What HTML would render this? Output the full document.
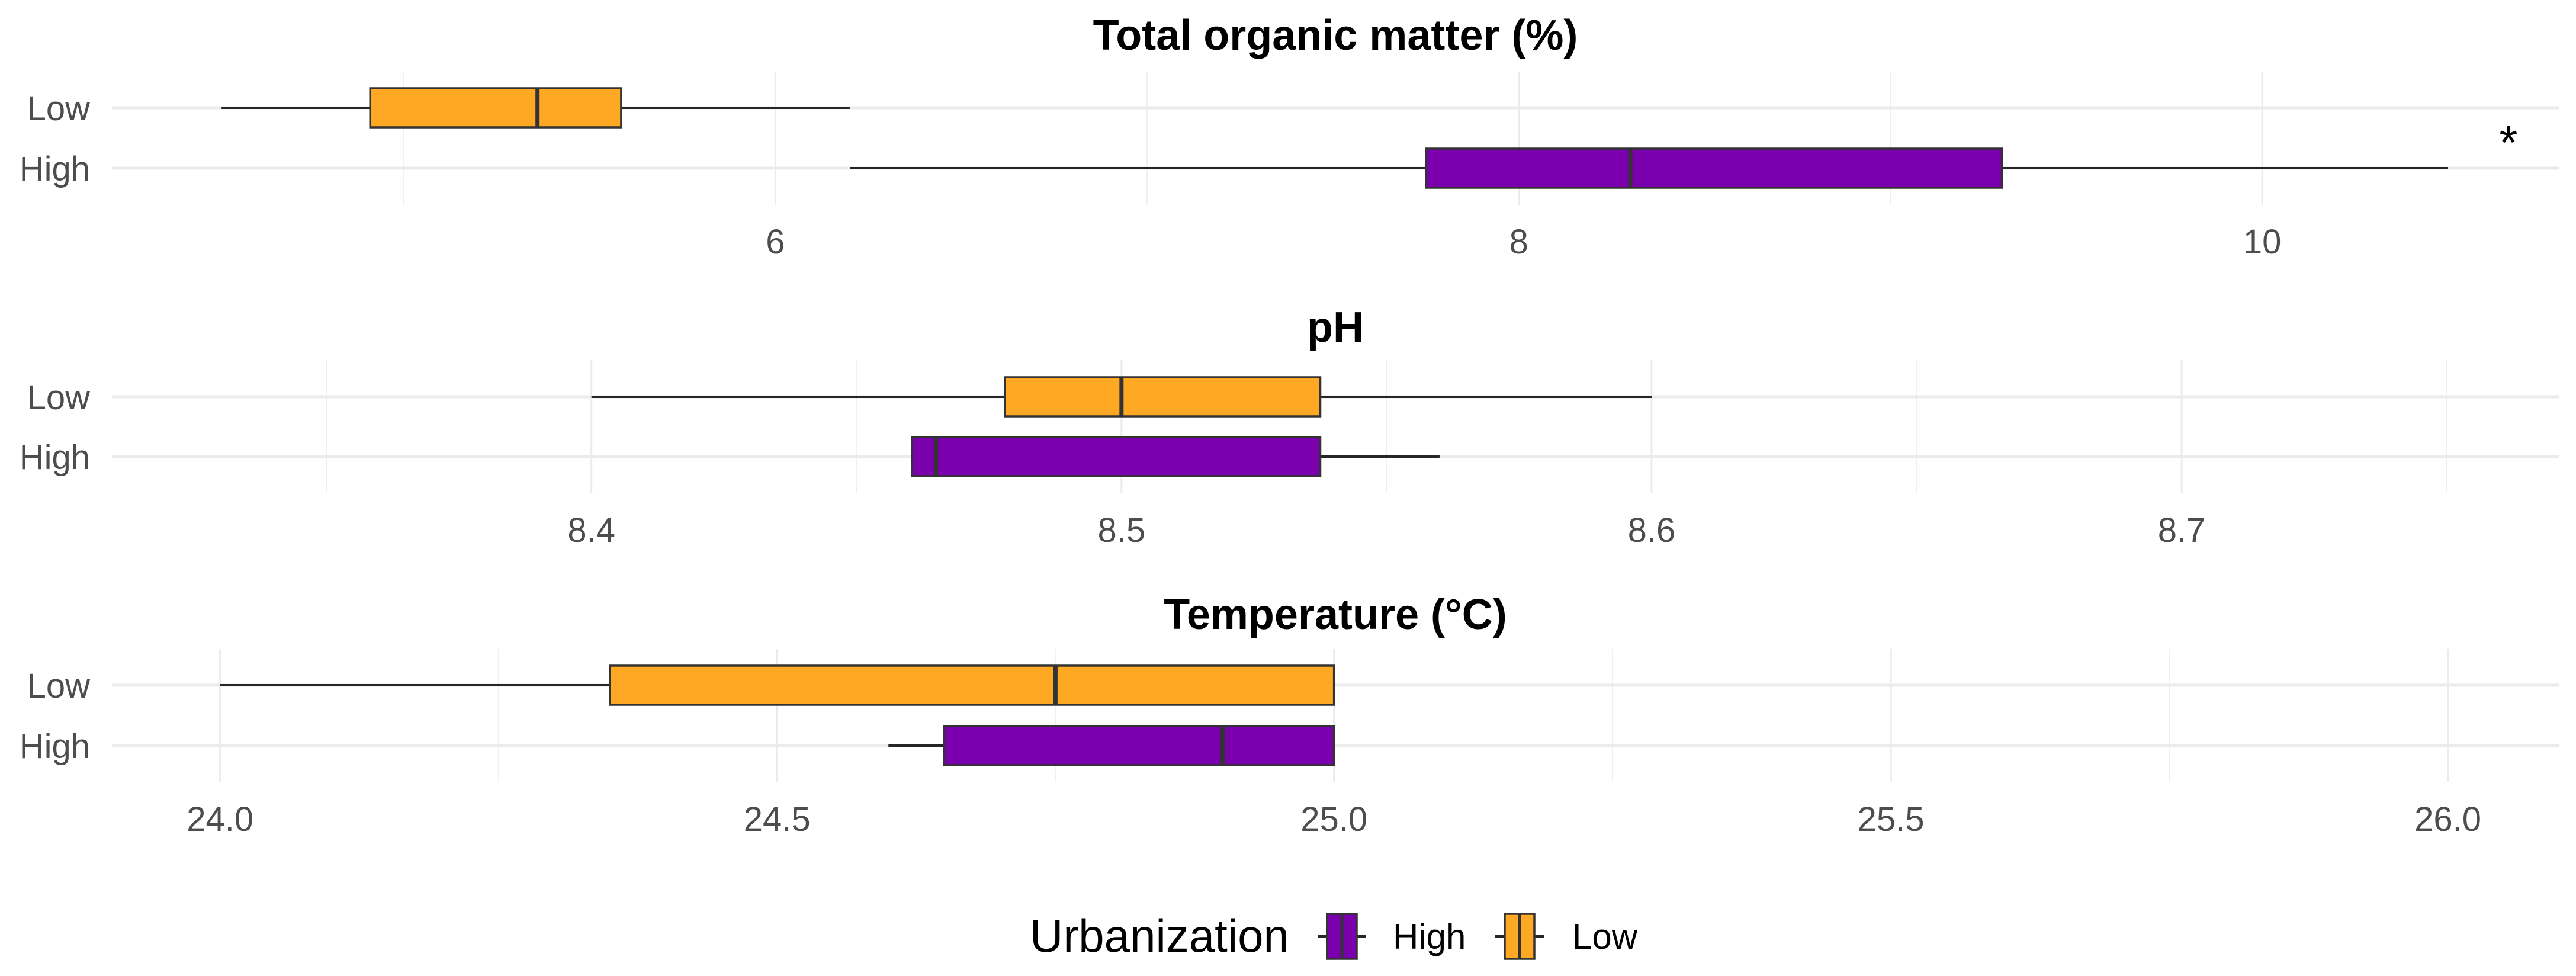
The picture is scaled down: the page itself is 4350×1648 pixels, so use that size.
<!DOCTYPE html>
<html><head><meta charset="utf-8"><style>
html,body{margin:0;padding:0;background:#fff;}
svg{display:block;font-family:"Liberation Sans",Arial,sans-serif;}
</style></head><body>
<svg id="chart" width="4350" height="1648" viewBox="0 0 4350 1648" xmlns="http://www.w3.org/2000/svg"></svg>
<script>
// ---- data ----
const groups = ["Low", "High"];
const panelTitles = ["Total organic matter (%)", "pH", "Temperature (°C)"];
// [whiskerLow, Q1, median, Q3, whiskerHigh] per group (Low, High)
const tomLow = [4.51, 4.91, 5.36, 5.585, 6.2];
const tomHigh = [6.2, 7.75, 8.30, 9.30, 10.5];
const phLow = [8.40, 8.478, 8.50, 8.5375, 8.60];
const phHigh = [8.4605, 8.4605, 8.465, 8.5375, 8.56];
const tempLow = [24.0, 24.35, 24.75, 25.0, 25.0];
const tempHigh = [24.60, 24.65, 24.90, 25.0, 25.0];
const tomTicks = [6, 8, 10];
const tomMinor = [5, 7, 9];
const phTicks = [8.4, 8.5, 8.6, 8.7];
const phMinor = [8.35, 8.45, 8.55, 8.65, 8.75];
const tempTicks = [24.0, 24.5, 25.0, 25.5, 26.0];
const tempMinor = [24.25, 24.75, 25.25, 25.75];
const tickLabelsTom = ["6", "8", "10"];
const tickLabelsPh = ["8.4", "8.5", "8.6", "8.7"];
const tickLabelsTemp = ["24.0", "24.5", "25.0", "25.5", "26.0"];

const NS = "http://www.w3.org/2000/svg";
const svg = document.getElementById("chart");
function mk(tag, attrs, parent) {
  const e = document.createElementNS(NS, tag);
  for (const k in attrs) e.setAttribute(k, attrs[k]);
  (parent || svg).appendChild(e);
  return e;
}
function linScale(v0, p0, v1, p1) { return v => p0 + (v - v0) * (p1 - p0) / (v1 - v0); }

const colors = { Low: "#FFA824", High: "#7A00AD" };
const plotL = 189, plotR = 4322;

const panels = [
  { key: "tom", title: panelTitles[0], low: tomLow, high: tomHigh, ticks: tomTicks, minor: tomMinor, labels: tickLabelsTom,
    x: linScale(6, 1309.4, 10, 3820.1), gTop: 121, gBot: 346, yLow: 182, yHigh: 284, titleY: 84, tickY: 428 },
  { key: "ph", title: panelTitles[1], low: phLow, high: phHigh, ticks: phTicks, minor: phMinor, labels: tickLabelsPh,
    x: linScale(8.4, 998.7, 8.7, 3684.1), gTop: 608, gBot: 833, yLow: 670, yHigh: 771, titleY: 577, tickY: 915 },
  { key: "temp", title: panelTitles[2], low: tempLow, high: tempHigh, ticks: tempTicks, minor: tempMinor, labels: tickLabelsTemp,
    x: linScale(24.0, 371.7, 26.0, 4133.6), gTop: 1096, gBot: 1320, yLow: 1157, yHigh: 1259, titleY: 1062, tickY: 1403 }
];

const half = 33;
panels.forEach(p => {
  const g = mk("g", {});
  
  
  p.minor.forEach(v => {
    const l = mk("line", { x1: p.x(v), x2: p.x(v), y1: p.gTop, y2: p.gBot, stroke: "#f0f0f0", "stroke-width": 2 }, g);
    
    
  });
  p.ticks.forEach(v => {
    const l = mk("line", { x1: p.x(v), x2: p.x(v), y1: p.gTop, y2: p.gBot, stroke: "#ebebeb", "stroke-width": 3 }, g);
    
    
  });
  [p.yLow, p.yHigh].forEach(y => {
    const l = mk("line", { x1: plotL, x2: plotR, y1: y, y2: y, stroke: "#ebebeb", "stroke-width": 5 }, g);
    
    
  });
  const t = mk("text", { x: 2255, y: p.titleY, "text-anchor": "middle", "font-size": 72, "font-weight": "bold", fill: "#000" }, g);
  t.textContent = p.title;
  
  
  p.ticks.forEach((v, i) => {
    const tl = mk("text", { x: p.x(v), y: p.tickY, "text-anchor": "middle", "font-size": 58, fill: "#4d4d4d" }, g);
    tl.textContent = p.labels[i];
    
    
  });
  [["Low", p.yLow], ["High", p.yHigh]].forEach(([lab, y]) => {
    const yl = mk("text", { x: 152, y: y + 21, "text-anchor": "end", "font-size": 58, fill: "#4d4d4d" }, g);
    yl.textContent = lab;
    
    
  });
  [["Low", p.low, p.yLow], ["High", p.high, p.yHigh]].forEach(([lab, s, y]) => {
    const bg = mk("g", {}, g);
    
    
    if (s[0] < s[1]) mk("line", { x1: p.x(s[0]), x2: p.x(s[1]), y1: y, y2: y, stroke: "#262626", "stroke-width": 4 }, bg);
    if (s[4] > s[3]) mk("line", { x1: p.x(s[3]), x2: p.x(s[4]), y1: y, y2: y, stroke: "#262626", "stroke-width": 4 }, bg);
    mk("rect", { x: p.x(s[1]), y: y - half, width: p.x(s[3]) - p.x(s[1]), height: half * 2, fill: colors[lab], stroke: "#333", "stroke-width": 3.5 }, bg);
    mk("line", { x1: p.x(s[2]), x2: p.x(s[2]), y1: y - half, y2: y + half, stroke: "#333", "stroke-width": 7 }, bg);
  });
});
const ast = mk("text", { x: 4236, y: 268, "text-anchor": "middle", "font-size": 80, fill: "#000" });
ast.textContent = "*";



const lg = mk("g", {});


const lt = mk("text", { x: 1739, y: 1607, "font-size": 78, fill: "#000" }, lg);
lt.textContent = "Urbanization";


[["High", 2241, 2352], ["Low", 2541, 2655]].forEach(([lab, kx, tx]) => {
  const e = mk("g", {}, lg);
  
  
  mk("line", { x1: kx - 16, x2: kx + 66, y1: 1581, y2: 1581, stroke: "#262626", "stroke-width": 4 }, e);
  mk("rect", { x: kx, y: 1543, width: 50, height: 76, fill: colors[lab], stroke: "#333", "stroke-width": 3.5 }, e);
  mk("line", { x1: kx + 25, x2: kx + 25, y1: 1543, y2: 1619, stroke: "#333", "stroke-width": 5 }, e);
  const tt = mk("text", { x: tx, y: 1602, "font-size": 60, fill: "#000" }, e);
  tt.textContent = lab;
});
</script>
</body></html>
